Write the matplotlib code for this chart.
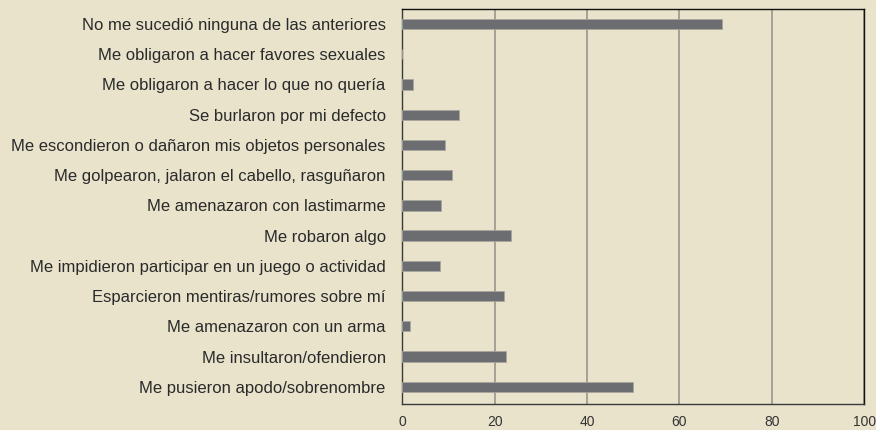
import matplotlib
matplotlib.use("Agg")
import matplotlib.pyplot as plt

categories = [
    "Me pusieron apodo/sobrenombre",
    "Me insultaron/ofendieron",
    "Me amenazaron con un arma",
    "Esparcieron mentiras/rumores sobre mí",
    "Me impidieron participar en un juego o actividad",
    "Me robaron algo",
    "Me amenazaron con lastimarme",
    "Me golpearon, jalaron el cabello, rasguñaron",
    "Me escondieron o dañaron mis objetos personales",
    "Se burlaron por mi defecto",
    "Me obligaron a hacer lo que no quería",
    "Me obligaron a hacer favores sexuales",
    "No me sucedió ninguna de las anteriores",
]
values = [49.9, 22.5, 1.7, 22.1, 8.2, 23.6, 8.4, 10.8, 9.2, 12.3, 2.4, 0.0, 69.1]
xticks = [0, 20, 40, 60, 80, 100]

bg = "#E9E3CC"
plt.rcParams['font.family'] = ['Liberation Sans', 'DejaVu Sans']

fig = plt.figure(figsize=(8.76, 4.30), dpi=100, facecolor=bg)
ax = fig.add_axes([402.3/876, 1 - 404/430, (864.3-402.3)/876, (404-9.5)/430])
ax.set_facecolor(bg)

ypos = list(range(len(categories)))
ax.barh(ypos, values, height=0.34, color="#6C6D71", edgecolor="#A8A69E", linewidth=0.6, zorder=3)

ax.set_xlim(0, 100)
ax.set_ylim(-0.57, 12.48)
ax.set_xticks(xticks)
ax.set_xticklabels([str(t) for t in xticks], fontsize=10, color="#333333")
ax.set_yticks(ypos)
ax.set_yticklabels(categories, fontsize=12, color="#2a2a2a")
ax.tick_params(axis='y', length=0, pad=12)
ax.tick_params(axis='x', length=0, pad=8)
ax.grid(axis='x', color="#99968C", linewidth=1.2, zorder=1)
for s in ['left', 'bottom']:
    ax.spines[s].set_color("#3a3a3a")
    ax.spines[s].set_linewidth(1.0)
for s in ['top', 'right']:
    ax.spines[s].set_color("#111111")
    ax.spines[s].set_linewidth(1.0)

fig.savefig("out.png", dpi=100, facecolor=bg)
